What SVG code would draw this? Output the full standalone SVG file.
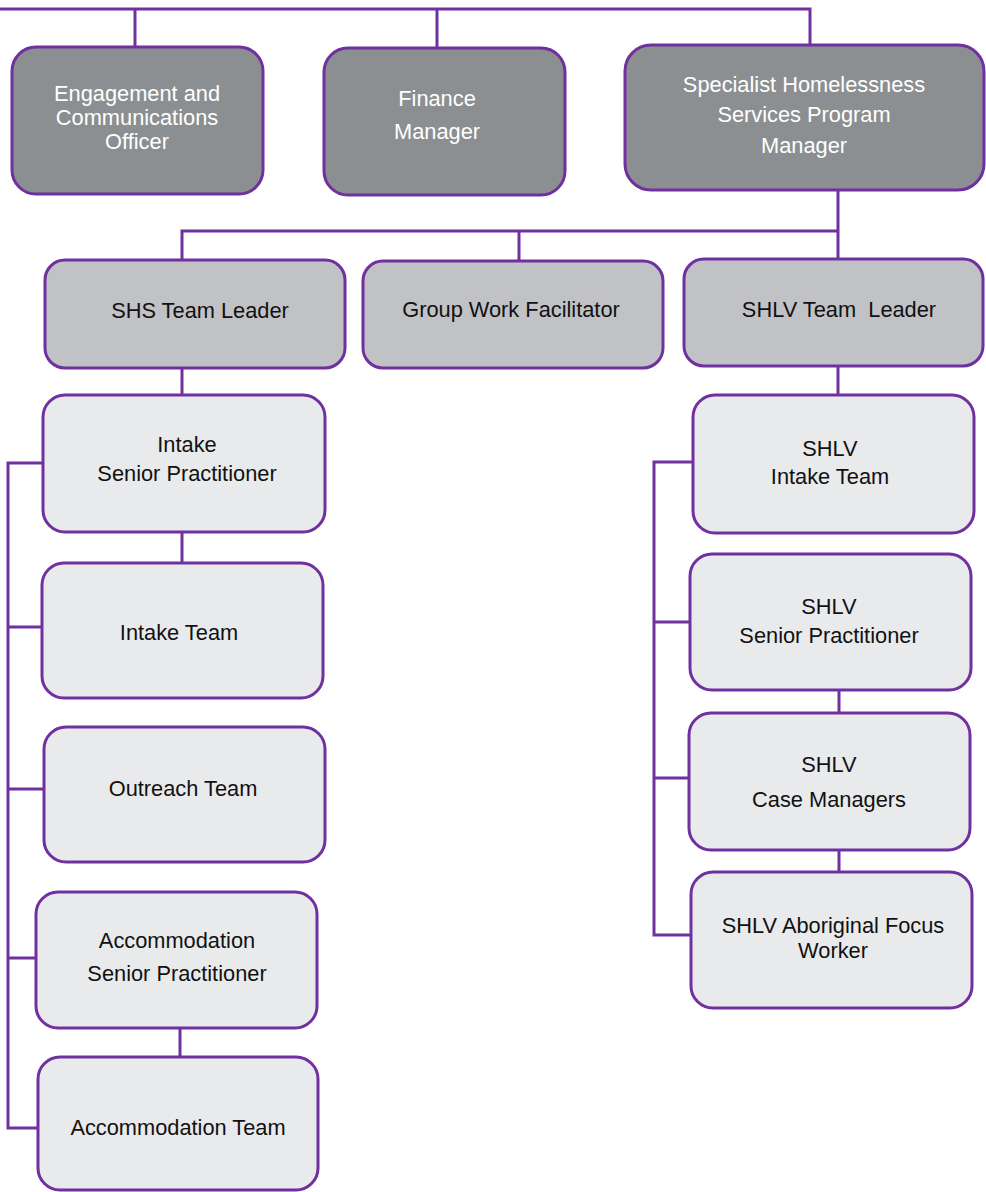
<svg xmlns="http://www.w3.org/2000/svg" width="986" height="1192" viewBox="0 0 986 1192">
<style>
.box{stroke:#7030A0;stroke-width:3}
.dark{fill:#8C8F91}
.mid{fill:#C1C2C5}
.light{fill:#E9EAEC}
.conn{stroke:#7030A0;stroke-width:3;fill:none}
text{font-family:"Liberation Sans",Arial,sans-serif;font-size:21.8px;text-anchor:middle}
.w{fill:#FFFFFF}
.b{fill:#111111}
</style>
<rect width="986" height="1192" fill="#FFFFFF"/>
<g id="connectors">
<path class="conn" d="M0 9 H810 V45"/>
<path class="conn" d="M135 9 V47"/>
<path class="conn" d="M437 9 V48"/>
<path class="conn" d="M838 190 V259"/>
<path class="conn" d="M182 260 V231 H838"/>
<path class="conn" d="M519 231 V261"/>
<path class="conn" d="M182 368 V395"/>
<path class="conn" d="M182 532 V563"/>
<path class="conn" d="M43 463 H8 V1128 H38"/>
<path class="conn" d="M8 627 H42"/>
<path class="conn" d="M8 789 H44"/>
<path class="conn" d="M8 958 H36"/>
<path class="conn" d="M180 1028 V1057"/>
<path class="conn" d="M838 366 V395"/>
<path class="conn" d="M693 462 H654 V935 H691"/>
<path class="conn" d="M654 622 H690"/>
<path class="conn" d="M654 778 H689"/>
<path class="conn" d="M839 690 V713"/>
<path class="conn" d="M839 850 V872"/>
</g>
<g id="engagement">
<rect class="box dark" x="12" y="47" width="251" height="147" rx="24"/>
<text class="w" x="137" y="101">Engagement and</text>
<text class="w" x="137" y="125">Communications</text>
<text class="w" x="137" y="149">Officer</text>
</g>
<g id="finance">
<rect class="box dark" x="324" y="48" width="241" height="147" rx="24"/>
<text class="w" x="437" y="106">Finance</text>
<text class="w" x="437" y="139">Manager</text>
</g>
<g id="shs-program-manager">
<rect class="box dark" x="625" y="45" width="359" height="145" rx="26"/>
<text class="w" x="804" y="92">Specialist Homelessness</text>
<text class="w" x="804" y="122">Services Program</text>
<text class="w" x="804" y="153">Manager</text>
</g>
<g id="shs-team-leader">
<rect class="box mid" x="45" y="260" width="300" height="108" rx="20"/>
<text class="b" x="200" y="318">SHS Team Leader</text>
</g>
<g id="group-work">
<rect class="box mid" x="363" y="261" width="300" height="107" rx="20"/>
<text class="b" x="511" y="317">Group Work Facilitator</text>
</g>
<g id="shlv-team-leader">
<rect class="box mid" x="684" y="259" width="299" height="107" rx="20"/>
<text class="b" x="839" y="317" xml:space="preserve">SHLV Team  Leader</text>
</g>
<g id="intake-sp">
<rect class="box light" x="43" y="395" width="282" height="137" rx="22"/>
<text class="b" x="187" y="452">Intake</text>
<text class="b" x="187" y="481">Senior Practitioner</text>
</g>
<g id="intake-team">
<rect class="box light" x="42" y="563" width="281" height="135" rx="22"/>
<text class="b" x="179" y="640">Intake Team</text>
</g>
<g id="outreach-team">
<rect class="box light" x="44" y="727" width="281" height="135" rx="22"/>
<text class="b" x="183" y="796">Outreach Team</text>
</g>
<g id="accommodation-sp">
<rect class="box light" x="36" y="892" width="281" height="136" rx="22"/>
<text class="b" x="177" y="948">Accommodation</text>
<text class="b" x="177" y="981">Senior Practitioner</text>
</g>
<g id="accommodation-team">
<rect class="box light" x="38" y="1057" width="280" height="133" rx="22"/>
<text class="b" x="178" y="1135">Accommodation Team</text>
</g>
<g id="shlv-intake">
<rect class="box light" x="693" y="395" width="281" height="138" rx="22"/>
<text class="b" x="830" y="456">SHLV</text>
<text class="b" x="830" y="484">Intake Team</text>
</g>
<g id="shlv-sp">
<rect class="box light" x="690" y="554" width="281" height="136" rx="22"/>
<text class="b" x="829" y="614">SHLV</text>
<text class="b" x="829" y="643">Senior Practitioner</text>
</g>
<g id="shlv-case">
<rect class="box light" x="689" y="713" width="281" height="137" rx="22"/>
<text class="b" x="829" y="772">SHLV</text>
<text class="b" x="829" y="807">Case Managers</text>
</g>
<g id="shlv-aboriginal">
<rect class="box light" x="691" y="872" width="281" height="136" rx="22"/>
<text class="b" x="833" y="933">SHLV Aboriginal Focus</text>
<text class="b" x="833" y="958">Worker</text>
</g>
</svg>
